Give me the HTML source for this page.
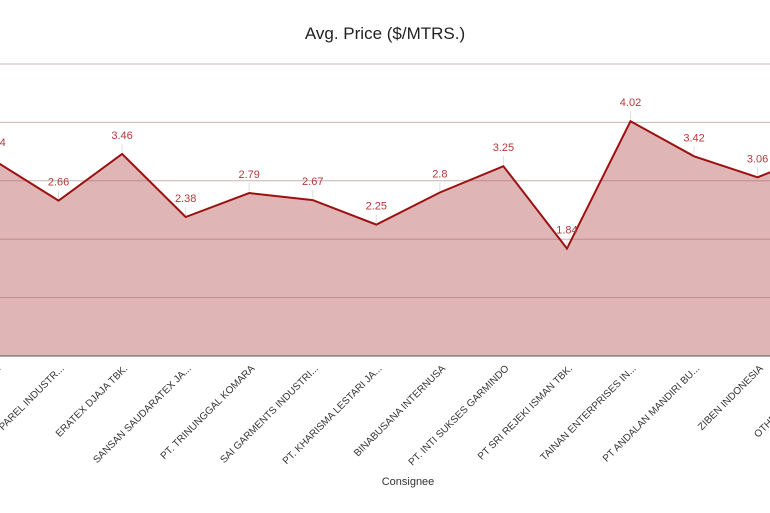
<!DOCTYPE html>
<html><head><meta charset="utf-8"><style>
html,body{margin:0;padding:0;background:#fff;overflow:hidden}
svg{display:block;font-family:"Liberation Sans",sans-serif}
</style></head><body>
<svg id="chart" width="770" height="513" viewBox="0 0 770 513">
<text x="385" y="39" text-anchor="middle" font-size="17" fill="#222">Avg. Price ($/MTRS.)</text>
<text x="408" y="485" text-anchor="middle" font-size="11" fill="#333">Consignee</text>
<g id="grid"></g><g id="area"></g><g id="labels"></g><g id="xt"></g>
</svg>
<script>
const categories=["GOLDEN APPAREL INDUSTR...","ERATEX DJAJA TBK.","SANSAN SAUDARATEX JA...","PT. TRINUNGGAL KOMARA","SAI GARMENTS INDUSTRI...","PT. KHARISMA LESTARI JA...","BINABUSANA INTERNUSA","PT. INTI SUKSES GARMINDO","PT SRI REJEKI ISMAN TBK.","TAINAN ENTERPRISES IN...","PT ANDALAN MANDIRI BU...","ZIBEN INDONESIA","OTHER CONSIGNEE"];
const values=[3.34,2.66,3.46,2.38,2.79,2.67,2.25,2.8,3.25,1.84,4.02,3.42,3.06,3.5];
const names=["PT. APPAREL ONE"].concat(categories);
const valueLabels=["3.34","2.66","3.46","2.38","2.79","2.67","2.25","2.8","3.25","1.84","4.02","3.42","3.06","3.5"];
const yTicks=[0,1,2,3,4,5];
const NS="http://www.w3.org/2000/svg";
const x=i=>-5+63.55*i;
const y=v=>356-v*58.4;
function mk(tag,attrs,parent){const e=document.createElementNS(NS,tag);for(const k in attrs)e.setAttribute(k,attrs[k]);parent.appendChild(e);return e;}
const grid=document.getElementById('grid'),area=document.getElementById('area'),labels=document.getElementById('labels'),xt=document.getElementById('xt');
yTicks.forEach(t=>{if(t===0)return;const l=mk('line',{x1:0,x2:770,y1:y(t),y2:y(t),stroke:'#d9d9d9','stroke-width':1},grid);

});
let pts=values.map((v,i)=>x(i)+','+y(v)).join(' ');
const poly=mk('polygon',{points:pts+' '+x(values.length-1)+','+y(0)+' '+x(0)+','+y(0),fill:'#c06b6b','fill-opacity':0.5},area);


yTicks.forEach(t=>{if(t===0)return;const l=mk('line',{x1:0,x2:770,y1:y(t),y2:y(t),stroke:'#a05050','stroke-opacity':0.25,'stroke-width':1},area);

});
const line=mk('polyline',{points:pts,fill:'none',stroke:'#9b1111','stroke-width':2,'stroke-linejoin':'miter'},area);


const base=mk('line',{x1:0,x2:770,y1:y(0),y2:y(0),stroke:'#555','stroke-width':1},area);


values.forEach((v,i)=>{
const tk=mk('line',{x1:x(i),x2:x(i),y1:y(v)-2,y2:y(v)-10,stroke:'#ddd','stroke-width':1},labels);


const t=mk('text',{x:x(i),y:y(v)-15,'text-anchor':'middle','font-size':11,fill:'#b33a3a'},labels);
t.textContent=valueLabels[i];


const c=mk('text',{transform:'translate('+(x(i)+6)+',369) rotate(-45)','text-anchor':'end','font-size':10,fill:'#333'},xt);
c.textContent=names[i];


});
</script>
</body></html>
